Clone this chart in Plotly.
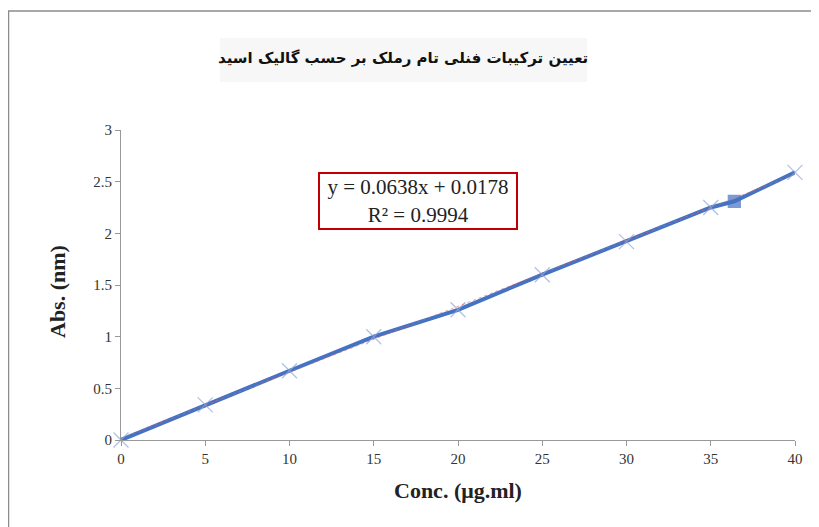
import plotly.graph_objects as go

conc = [0, 5, 10, 15, 20, 25, 30, 35, 36.4, 40]
absorb = [0, 0.34, 0.67, 1.00, 1.26, 1.60, 1.92, 2.25, 2.31, 2.59]
symbols = ["x-thin", "x-thin", "x-thin", "x-thin", "x-thin", "x-thin", "x-thin", "x-thin", "square", "x-thin"]
slope = 0.0638
intercept = 0.0178
x_ticks = [0, 5, 10, 15, 20, 25, 30, 35, 40]
y_ticks = [0, 0.5, 1, 1.5, 2, 2.5, 3]
y_tick_text = ["0", "0.5", "1", "1.5", "2", "2.5", "3"]
title_text = "تعیین ترکیبات فنلی تام رملک بر حسب گالیک اسید"
x_title = "Conc. (μg.ml)"
y_title = "Abs. (nm)"
eq_text = "y = 0.0638x + 0.0178<br>R² = 0.9994"

# page body has an 8px margin: figure is placed at screen (8, 8)
OFF = 8
W, H = 819 - OFF, 527 - OFF
# target screen plot area: x 121..795, y 130..440
L, T = 121 - OFF, 130 - OFF
R = W - (795 - OFF)
B = H - (440 - OFF)
PW, PH = W - L - R, H - T - B

def pxx(sx):
    return (sx - OFF - L) / PW
def pxy(sy):
    return (H - B - (sy - OFF)) / PH

blue = "#4472C4"
light = "#8EA9DB"

fig = go.Figure()
trend_x = [0, 40]
trend_y = [intercept + slope * v for v in trend_x]
fig.add_trace(go.Scatter(
    x=conc, y=absorb, mode="lines+markers",
    line=dict(color=blue, width=4),
    marker=dict(symbol=symbols, size=[15]*8 + [12] + [15],
                color=[light]*8 + [blue] + [light],
                line=dict(color=[light]*8 + [blue] + [light], width=1.3)),
    showlegend=False, cliponaxis=False,
))
fig.add_trace(go.Scatter(
    x=trend_x, y=trend_y, mode="lines",
    line=dict(color="#E06666", width=1, dash="dot"),
    opacity=0.6, showlegend=False,
))

axis_font = dict(family="Liberation Serif", size=15, color="#333333")
fig.update_layout(
    width=W, height=H,
    margin=dict(l=L, r=R, t=T, b=B, pad=0),
    paper_bgcolor="white", plot_bgcolor="white",
    modebar=dict(bgcolor="rgba(0,0,0,0)", color="rgba(0,0,0,0)", activecolor="rgba(0,0,0,0)"),
    xaxis=dict(range=[0, 40], tickvals=x_ticks, showgrid=False, zeroline=False,
               showline=True, linecolor="#999999", linewidth=1.2,
               ticks="outside", ticklen=5, tickcolor="#999999",
               tickfont=axis_font),
    yaxis=dict(range=[0, 3], tickvals=y_ticks, ticktext=y_tick_text, showgrid=False, zeroline=False,
               showline=True, linecolor="#999999", linewidth=1.2,
               ticks="outside", ticklen=5, tickcolor="#999999",
               tickfont=axis_font),
)

# axis titles
fig.add_annotation(xref="paper", yref="paper", x=pxx(458), y=pxy(490),
                   xanchor="center", yanchor="middle",
                   text="<b>" + x_title + "</b>", showarrow=False,
                   font=dict(family="Liberation Serif", size=22, color="#222222"))
fig.add_annotation(xref="paper", yref="paper", x=pxx(57), y=pxy(292),
                   xanchor="center", yanchor="middle",
                   text="<b>" + y_title + "</b>", showarrow=False, textangle=-90,
                   font=dict(family="Liberation Serif", size=22, color="#222222"))

# outer frame: a rectangle running past the right and bottom edges of the figure,
# so only its top and left edges are visible
fig.add_shape(type="rect", xref="paper", yref="paper",
              x0=pxx(8.5), y0=pxy(700), x1=pxx(1000), y1=pxy(11),
              line=dict(color="#8c8c8c", width=1.5), fillcolor="rgba(0,0,0,0)", layer="below")

# title background box
fig.add_shape(type="rect", xref="paper", yref="paper",
              x0=pxx(220), x1=pxx(587), y0=pxy(82), y1=pxy(38),
              fillcolor="#f7f7f7", line=dict(width=0), layer="below")
fig.add_annotation(xref="paper", yref="paper",
                   x=pxx(403), y=pxy(58), xanchor="center", yanchor="middle",
                   text="<b>" + title_text + "</b>", showarrow=False,
                   font=dict(family="DejaVu Sans", size=15, color="#111111"))

# equation box
fig.add_annotation(xref="paper", yref="paper",
                   x=pxx(418), y=pxy(201), xanchor="center", yanchor="middle",
                   text=eq_text, showarrow=False, align="center",
                   font=dict(family="Liberation Serif", size=21, color="#222222"),
                   bordercolor="#C00000", borderwidth=2, borderpad=1, bgcolor="white",
                   width=194, height=52)

fig.write_html("out.html", config={"displayModeBar": False})
